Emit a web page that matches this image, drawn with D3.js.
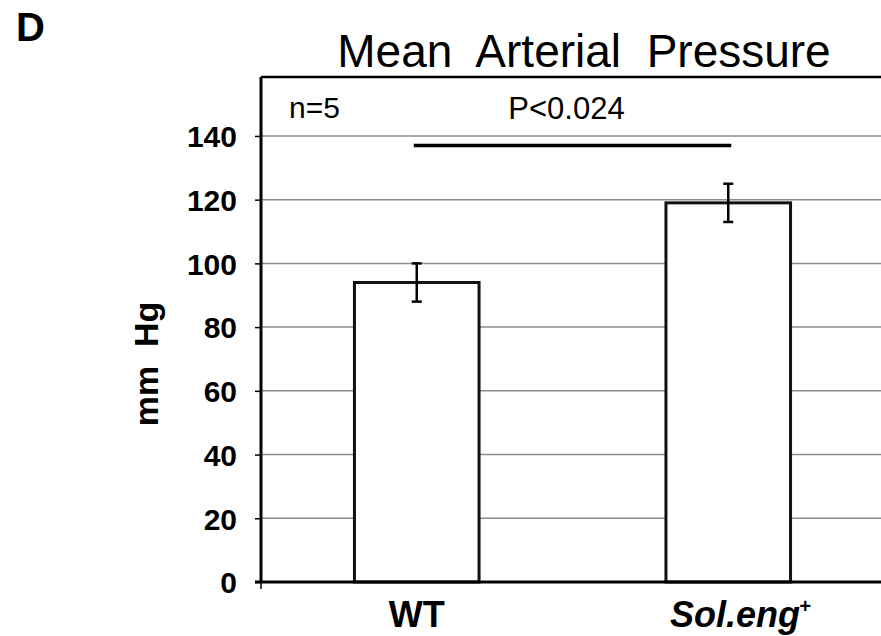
<!DOCTYPE html>
<html>
<head>
<meta charset="utf-8">
<script src="https://cdn.jsdelivr.net/npm/d3@7"></script>
<style>
  html, body { margin: 0; padding: 0; background: #fff; }
  svg { display: block; }
  text { font-family: "Liberation Sans", Arial, sans-serif; fill: #000; white-space: pre; }
</style>
</head>
<body>
<svg id="chart" width="881" height="636"></svg>
<script>
// ---- data ----
const categories = ["WT", "Sol.eng+"];
const means = [94, 119];
const errors = [6, 6];
const yTicks = [0, 20, 40, 60, 80, 100, 120, 140];
const sigValue = 137;
const sigLabel = "P<0.024";
const nLabel = "n=5";
const title = "Mean  Arterial  Pressure";
const yLabel = "mm  Hg";
const panelLabel = "D";

// ---- layout ----
const W = 881, H = 636;
const mLeft = 261, mRight = 884, mTop = 77, mBottom = 582;

const svg = d3.select("#chart");
svg.append("rect").attr("width", W).attr("height", H).attr("fill", "#fff");

const y = d3.scaleLinear().domain([0, 158.5]).range([mBottom, mTop]);
const x = d3.scaleBand().domain(categories).range([mLeft, mRight])
  .paddingInner(0.6).paddingOuter(0.3);

// gridlines
svg.append("g").selectAll("line")
  .data(yTicks.filter(d => d > 0))
  .join("line")
  .attr("x1", mLeft).attr("x2", W)
  .attr("y1", d => y(d)).attr("y2", d => y(d))
  .attr("stroke", "#8c8c8c").attr("stroke-width", 1.5);

// frame top
svg.append("line").attr("x1", mLeft).attr("x2", W)
  .attr("y1", mTop).attr("y2", mTop)
  .attr("stroke", "#000").attr("stroke-width", 2.5);

// y axis
const yAxis = d3.axisLeft(y).tickValues(yTicks).tickSize(6).tickPadding(18)
  .tickFormat(d3.format("d"));
const gy = svg.append("g").attr("transform", `translate(${mLeft},0)`).call(yAxis);
gy.select(".domain").remove();
gy.selectAll(".tick line").attr("stroke", "#000").attr("stroke-width", 1.5);
gy.selectAll(".tick text")
  .attr("font-family", "Liberation Sans, Arial, sans-serif")
  .attr("font-size", 30).attr("font-weight", "bold").attr("fill", "#000")
  .attr("dy", "0.36em");

// bars
svg.append("g").selectAll("rect")
  .data(categories)
  .join("rect")
  .attr("x", d => x(d))
  .attr("y", (d, i) => y(means[i]))
  .attr("width", x.bandwidth())
  .attr("height", (d, i) => y(0) - y(means[i]))
  .attr("fill", "#fff").attr("stroke", "#111").attr("stroke-width", 3);

// axis lines
svg.append("line").attr("x1", mLeft).attr("x2", mLeft)
  .attr("y1", mTop).attr("y2", mBottom)
  .attr("stroke", "#000").attr("stroke-width", 3);
svg.append("line").attr("x1", mLeft - 6).attr("x2", W)
  .attr("y1", mBottom).attr("y2", mBottom)
  .attr("stroke", "#000").attr("stroke-width", 3);

// x tick at axis origin
svg.append("line")
  .attr("x1", mLeft).attr("x2", mLeft)
  .attr("y1", mBottom).attr("y2", mBottom + 7)
  .attr("stroke", "#000").attr("stroke-width", 1.5);

// error bars
const eg = svg.append("g").attr("stroke", "#000").attr("stroke-width", 2.5);
categories.forEach((c, i) => {
  const cx = x(c) + x.bandwidth() / 2;
  eg.append("line").attr("x1", cx).attr("x2", cx)
    .attr("y1", y(means[i] + errors[i])).attr("y2", y(means[i] - errors[i]));
  [means[i] + errors[i], means[i] - errors[i]].forEach(v => {
    eg.append("line").attr("x1", cx - 5).attr("x2", cx + 5)
      .attr("y1", y(v)).attr("y2", y(v));
  });
});

// significance bar
const c0 = x(categories[0]) + x.bandwidth() / 2;
const c1 = x(categories[1]) + x.bandwidth() / 2;
svg.append("line").attr("x1", c0 - 3).attr("x2", c1 + 3)
  .attr("y1", y(sigValue)).attr("y2", y(sigValue))
  .attr("stroke", "#000").attr("stroke-width", 3.5);
svg.append("text").attr("x", (c0 + c1) / 2 - 6).attr("y", 119)
  .attr("text-anchor", "middle").attr("font-size", 31).text(sigLabel);
svg.append("text").attr("x", 289).attr("y", 118)
  .attr("font-size", 30).text(nLabel);

// x labels
svg.append("text").attr("x", c0).attr("y", 627)
  .attr("text-anchor", "middle").attr("font-size", 36).attr("font-weight", "bold")
  .text(categories[0]);
const t2 = svg.append("text").attr("x", c1 + 12).attr("y", 627)
  .attr("text-anchor", "middle").attr("font-size", 36).attr("font-weight", "bold")
  .attr("font-style", "italic");
t2.append("tspan").text(categories[1].replace("+", ""));
t2.append("tspan").attr("font-size", 20).attr("dy", -14).attr("dx", -1).text("+");

// y label
svg.append("text")
  .attr("transform", `translate(158, 364) rotate(-90)`)
  .attr("text-anchor", "middle").attr("font-size", 34).attr("font-weight", "bold")
  .text(yLabel);

// title
svg.append("text").attr("x", 584).attr("y", 67)
  .attr("text-anchor", "middle").attr("font-size", 46)
  .text(title);

// panel label
svg.append("text").attr("x", 16).attr("y", 41)
  .attr("font-size", 40).attr("font-weight", "bold").text(panelLabel);
</script>
</body>
</html>
